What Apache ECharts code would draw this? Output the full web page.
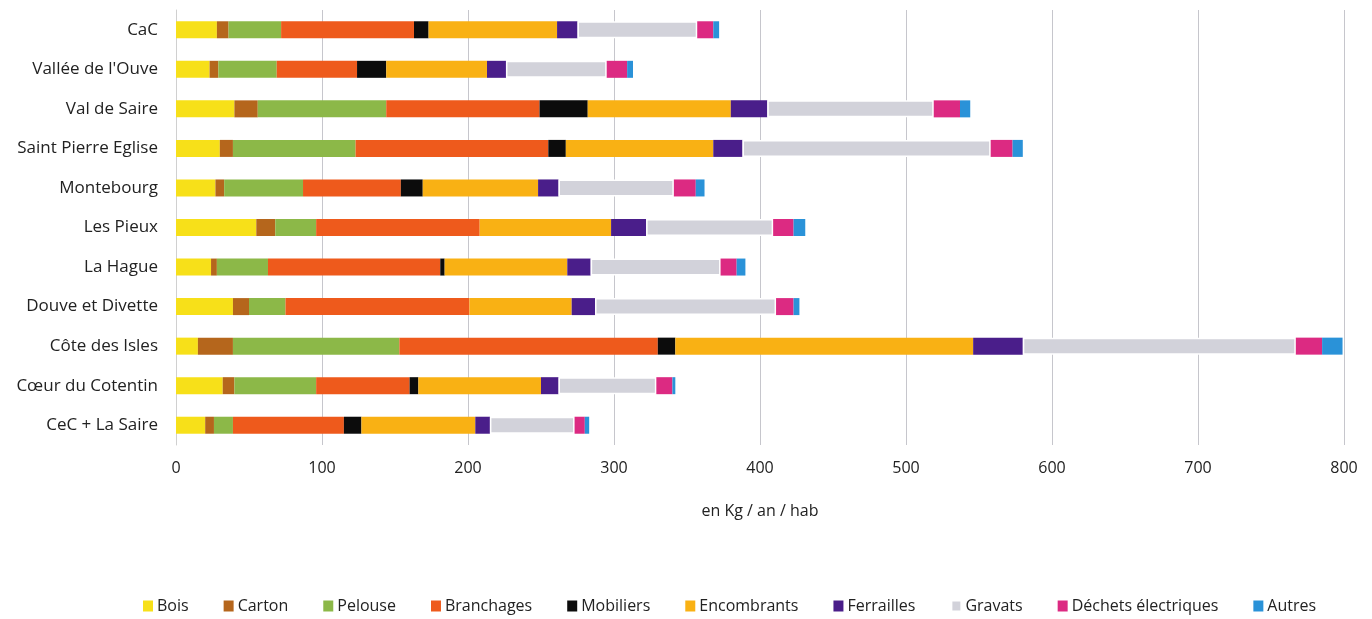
<!DOCTYPE html>
<html><head><meta charset="utf-8">
<script src="https://cdn.jsdelivr.net/npm/echarts@6/dist/echarts.min.js"></script>
<style>html,body{margin:0;padding:0;background:#fff}#c{width:1372px;height:619px}</style>
</head><body><div id="c"></div>
<script>
const categories = ["CaC","Vallée de l'Ouve","Val de Saire","Saint Pierre Eglise","Montebourg","Les Pieux","La Hague","Douve et Divette","Côte des Isles","Cœur du Cotentin","CeC + La Saire"];
const seriesNames = ["Bois","Carton","Pelouse","Branchages","Mobiliers","Encombrants","Ferrailles","Gravats","Déchets électriques","Autres"];
const bois        = [28, 23, 40, 30, 27, 55, 24, 39, 15, 32, 20];
const carton      = [ 8,  6, 16,  9,  6, 13,  4, 11, 24,  8,  6];
const pelouse     = [36, 40, 88, 84, 54, 28, 35, 25,114, 56, 13];
const branchages  = [91, 55,105,132, 67,112,118,126,177, 64, 76];
const mobiliers   = [10, 20, 33, 12, 15,  0,  3,  0, 12,  6, 12];
const encombrants = [88, 69, 98,101, 79, 90, 84, 70,204, 84, 78];
const ferrailles  = [14, 13, 25, 20, 14, 24, 16, 16, 34, 12, 10];
const gravats     = [82, 69,114,170, 79, 87, 89,124,187, 67, 58];
const dechets     = [11, 14, 18, 15, 15, 14, 11, 12, 18, 11,  7];
const autres      = [ 4,  4,  7,  7,  6,  8,  6,  4, 14,  2,  3];
const xTicks = [0,100,200,300,400,500,600,700,800];
const colors = ["#f7e019","#b5661c","#8cb848","#ee5a1c","#0c0c0c","#f9b114","#4a1e8a","#d2d2da","#dc2a82","#2a92d8"];
const allData = [bois,carton,pelouse,branchages,mobiliers,encombrants,ferrailles,gravats,dechets,autres];

const font = "'Open Sans', sans-serif";
const chart = echarts.init(document.getElementById('c'), null, {renderer:'canvas'});
chart.setOption({
  animation:false,
  color: colors,
  grid:{left:176, right:28, top:10, bottom:174, containLabel:false},
  legend:{
    data: seriesNames, bottom:0, left:138,
    itemWidth:10, itemHeight:11, itemGap:35, icon:'rect',
    textStyle:{fontFamily:font, fontSize:16, color:'#222', padding:[0,0,0,-1]}
  },
  xAxis:{
    type:'value', min:xTicks[0], max:xTicks[xTicks.length-1], interval:100,
    name:'en Kg / an / hab', nameLocation:'middle', nameGap:58,
    nameTextStyle:{fontFamily:font, fontSize:16, color:'#222'},
    axisLine:{show:false}, axisTick:{show:false},
    axisLabel:{fontFamily:font, fontSize:16, color:'#222', margin:15},
    splitLine:{show:true, lineStyle:{color:'#c6c6cc', width:1}}
  },
  yAxis:{
    type:'category', data: categories, inverse:true,
    axisLine:{show:true, lineStyle:{color:'#d0d0d0'}}, axisTick:{show:false},
    axisLabel:{fontFamily:font, fontSize:17, color:'#222', margin:18}
  },
  series: seriesNames.map((n,i)=>({
    name:n, type:'bar', stack:'total', barWidth:17,
    data: allData[i],
    itemStyle: i===7 ? {color:colors[i], borderColor:'#fff', borderWidth:1.5} : {color:colors[i]}
  }))
});
</script></body></html>
